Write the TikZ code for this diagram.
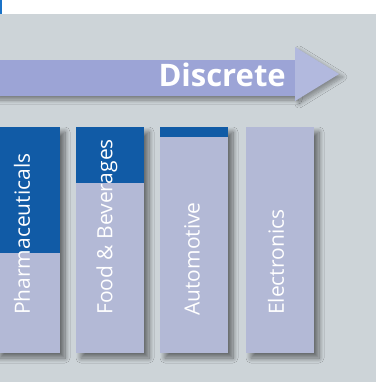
\documentclass[tikz,border=0pt]{standalone}
\usepackage{fontspec}
\setmainfont{Open Sans}
\usetikzlibrary{shadows.blur}
\definecolor{bg}{HTML}{CDD4D8}
\definecolor{barlight}{HTML}{B3B9D6}
\definecolor{bardark}{HTML}{115BA6}
\definecolor{arrowbody}{HTML}{9CA4D6}
\definecolor{arrowhead}{HTML}{B2B9DE}
\definecolor{marker}{HTML}{1A73C8}
\tikzset{
  barbox/.style={fill=barlight, draw=none, blur shadow={shadow xshift=5pt, shadow yshift=-5pt, shadow blur radius=5pt, shadow blur steps=10, shadow opacity=50}},
  topbox/.style={fill=bardark, draw=none},
  barlabel/.style={rotate=90, anchor=west, text=white, font=\fontsize{21}{21}\selectfont, inner sep=0pt},
}
\begin{document}
\begin{tikzpicture}[x=1pt, y=-1pt]
\useasboundingbox (0,0) rectangle (376,382);
% background
\fill[white] (0,0) rectangle (376,14);
\fill[bg] (0,14) rectangle (376,382);
\fill[marker] (0,0) rectangle (1.5,14);
% arrow
\fill[arrowbody, blur shadow={shadow xshift=2pt, shadow yshift=-4pt, shadow blur radius=4pt, shadow blur steps=8, shadow opacity=40}] (-5,60) rectangle (296,96);
\fill[arrowhead, blur shadow={shadow xshift=4pt, shadow yshift=-3pt, shadow blur radius=4pt, shadow blur steps=8, shadow opacity=35}] (295,47) -- (339,74) -- (295,101) -- cycle;
\node[anchor=base east, text=white, font=\fontsize{31}{31}\selectfont\bfseries, inner sep=0pt] (disc) at (286,87) {Discrete};
% bars
\fill[barbox] (-5,127) rectangle (60,353);
\fill[topbox] (-5,127) rectangle (60,253);
\fill[barbox] (76,127) rectangle (144,353);
\fill[topbox] (76,127) rectangle (144,183);
\fill[barbox] (160,127) rectangle (228,353);
\fill[topbox] (160,127) rectangle (228,137);
\fill[barbox] (246,127) rectangle (314,353);
% labels
\node[barlabel] (pharma) at (22,315) {Pharmaceuticals};
\node[barlabel] (food) at (107,315) {Food \& Beverages};
\node[barlabel] (auto) at (192,316) {Automotive};
\node[barlabel] (elec) at (276,315) {Electronics};
\end{tikzpicture}
\end{document}
